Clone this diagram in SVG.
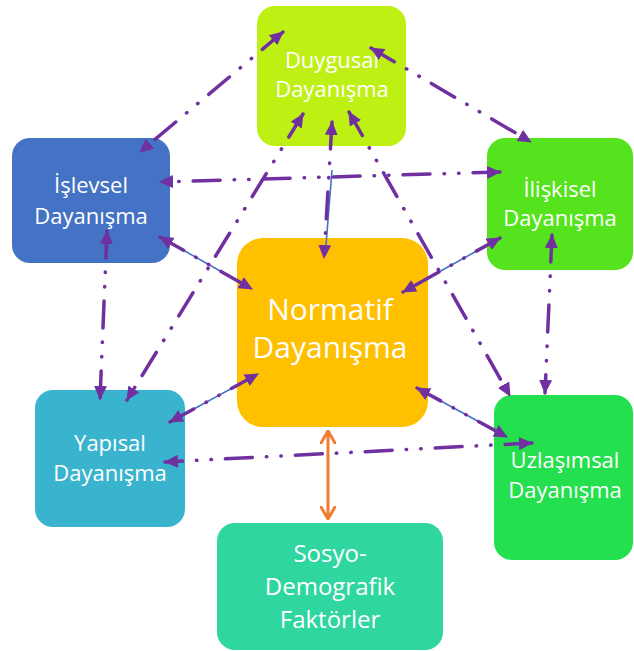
<svg xmlns="http://www.w3.org/2000/svg" width="634" height="651" viewBox="0 0 634 651">
<style>
.box{stroke:none}
.t{font-family:"Open Sans","Liberation Sans",sans-serif;fill:#ffffff;text-anchor:middle}
.s{font-size:22px}
.b{font-size:30px}
.m{font-size:24px}
.c{fill:none;stroke:#7030A0;stroke-width:3.5;stroke-linecap:round;stroke-dasharray:27 14 0.5 14 0.5 14;marker-start:url(#ah);marker-end:url(#ah)}
.u{fill:none;stroke:#4472C4;stroke-width:1.6}
.o{fill:none;stroke:#ED7D31;stroke-width:3;marker-start:url(#oh);marker-end:url(#oh)}
</style>
<defs>
<marker id="ah" viewBox="0 0 14 13" refX="13" refY="6.5" markerWidth="14" markerHeight="13" markerUnits="userSpaceOnUse" orient="auto-start-reverse">
<path d="M0,0 L14,6.5 L0,13 z" fill="#7030A0"/>
</marker>
<marker id="oh" viewBox="0 0 14 16" refX="13" refY="8" markerWidth="14" markerHeight="16" markerUnits="userSpaceOnUse" orient="auto-start-reverse">
<path d="M1,1 L13,8 L1,15" fill="none" stroke="#ED7D31" stroke-width="3" stroke-linecap="round" stroke-linejoin="round"/>
</marker>
</defs>
<g id="n-duygusal"><rect class="box" x="257" y="6" width="149" height="140" rx="18" fill="#BEF014"/><text class="t s" x="332" y="68">Duygusal</text><text class="t s" x="332" y="97">Dayanışma</text></g>
<g id="n-islevsel"><rect class="box" x="12" y="138" width="158" height="125" rx="18" fill="#4472C4"/><text class="t s" x="91" y="193">İşlevsel</text><text class="t s" x="91" y="224">Dayanışma</text></g>
<g id="n-iliskisel"><rect class="box" x="487" y="138" width="146" height="132" rx="18" fill="#55E31E"/><text class="t s" x="560" y="197">İlişkisel</text><text class="t s" x="560" y="226">Dayanışma</text></g>
<g id="n-normatif"><rect class="box" x="237" y="238" width="191" height="189" rx="26" fill="#FFC000"/><text class="t b" x="330" y="320">Normatif</text><text class="t b" x="330" y="358">Dayanışma</text></g>
<g id="n-yapisal"><rect class="box" x="35" y="390" width="150" height="137" rx="18" fill="#3AB4CE"/><text class="t s" x="110" y="451">Yapısal</text><text class="t s" x="110" y="481">Dayanışma</text></g>
<g id="n-uzlasimsal"><rect class="box" x="494" y="395" width="139" height="165" rx="18" fill="#24E04E"/><text class="t s" x="565" y="468">Uzlaşımsal</text><text class="t s" x="565" y="498">Dayanışma</text></g>
<g id="n-sosyo"><rect class="box" x="217" y="523" width="226" height="127" rx="18" fill="#2FD6A0"/><text class="t m" x="330" y="562">Sosyo-</text><text class="t m" x="330" y="595">Demografik</text><text class="t m" x="330" y="628">Faktörler</text></g>
<g id="connectors">
<line class="u" x1="160" y1="237" x2="252" y2="289"/>
<line class="u" x1="500" y1="238" x2="403" y2="292"/>
<line class="u" x1="332" y1="170" x2="326" y2="245"/>
<line class="u" x1="170" y1="422" x2="258" y2="374"/>
<line class="u" x1="417" y1="388" x2="507" y2="437"/>
<line class="c" x1="283" y1="32" x2="140" y2="152"/>
<line class="c" x1="371" y1="48" x2="531" y2="142"/>
<line class="c" x1="500" y1="172" x2="160" y2="182"/>
<line class="c" x1="160" y1="237" x2="252" y2="289"/>
<line class="c" x1="500" y1="238" x2="403" y2="292"/>
<line class="c" x1="332" y1="122" x2="324" y2="258"/>
<line class="c" x1="170" y1="422" x2="258" y2="374"/>
<line class="c" x1="417" y1="388" x2="507" y2="437"/>
<line class="c" x1="532" y1="443" x2="165" y2="462"/>
<line class="c" x1="107" y1="231" x2="100" y2="399"/>
<line class="c" x1="303" y1="114" x2="127" y2="400"/>
<line class="c" x1="349" y1="112" x2="510" y2="396"/>
<line class="c" x1="552" y1="235" x2="545" y2="393"/>
<line class="o" x1="328" y1="431" x2="328" y2="519"/>
</g>
</svg>
